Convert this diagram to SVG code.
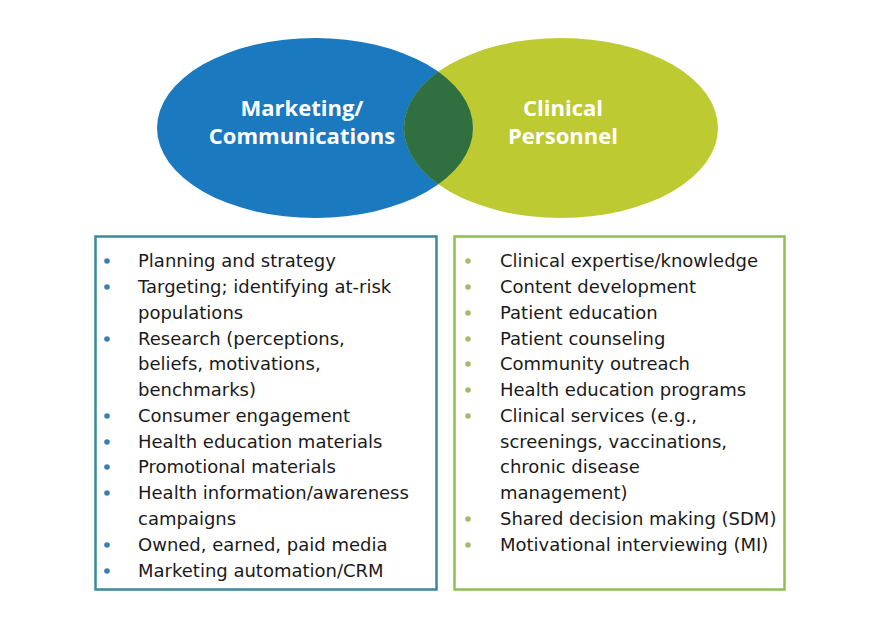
<svg xmlns="http://www.w3.org/2000/svg" width="878" height="626" viewBox="0 0 878 626">
<style>
.title{font-family:"Open Sans","Liberation Sans",sans-serif;font-weight:bold;font-size:22px;fill:#ffffff;text-anchor:middle}
.item{font-family:"DejaVu Sans","Liberation Sans",sans-serif;font-size:18px;fill:#1a1a1a}
.bl{fill:#3a7fb3}
.bg{fill:#a6bb6a}
</style>
<rect width="878" height="626" fill="#ffffff"/>
<g id="venn-marketing">
<ellipse cx="315" cy="128" rx="158" ry="90" fill="#1a79bf"/>
</g>
<g id="venn-clinical">
<ellipse cx="561" cy="128" rx="157" ry="90" fill="#bdca31"/>
</g>
<g id="venn-overlap">
<clipPath id="clipBlue"><ellipse cx="315" cy="128" rx="158" ry="90"/></clipPath>
<ellipse cx="561" cy="128" rx="157" ry="90" fill="#2f6f40" clip-path="url(#clipBlue)"/>
</g>
<g id="labels">
<text class="title" x="302" y="116">Marketing/</text>
<text class="title" x="302" y="144">Communications</text>
<text class="title" x="563" y="116">Clinical</text>
<text class="title" x="563" y="144">Personnel</text>
</g>
<g id="box-marketing">
<rect x="95.5" y="236.5" width="341" height="353" fill="#ffffff" stroke="#3b8a9b" stroke-width="2.5"/>
<g class="bl">
<circle cx="107" cy="261" r="2.8"/>
<circle cx="107" cy="287" r="2.8"/>
<circle cx="107" cy="339" r="2.8"/>
<circle cx="107" cy="416" r="2.8"/>
<circle cx="107" cy="442" r="2.8"/>
<circle cx="107" cy="467" r="2.8"/>
<circle cx="107" cy="493" r="2.8"/>
<circle cx="107" cy="545" r="2.8"/>
<circle cx="107" cy="571" r="2.8"/>
</g>
<text class="item" x="138" y="267">Planning and strategy</text>
<text class="item" x="138" y="293">Targeting; identifying at-risk</text>
<text class="item" x="138" y="319">populations</text>
<text class="item" x="138" y="345">Research (perceptions,</text>
<text class="item" x="138" y="370">beliefs, motivations,</text>
<text class="item" x="138" y="396">benchmarks)</text>
<text class="item" x="138" y="422">Consumer engagement</text>
<text class="item" x="138" y="448">Health education materials</text>
<text class="item" x="138" y="473">Promotional materials</text>
<text class="item" x="138" y="499">Health information/awareness</text>
<text class="item" x="138" y="525">campaigns</text>
<text class="item" x="138" y="551">Owned, earned, paid media</text>
<text class="item" x="138" y="577">Marketing automation/CRM</text>
</g>
<g id="box-clinical">
<rect x="454.5" y="236.5" width="330" height="353" fill="#ffffff" stroke="#8cc14f" stroke-width="2.5"/>
<g class="bg">
<circle cx="468" cy="261" r="2.8"/>
<circle cx="468" cy="287" r="2.8"/>
<circle cx="468" cy="313" r="2.8"/>
<circle cx="468" cy="339" r="2.8"/>
<circle cx="468" cy="364" r="2.8"/>
<circle cx="468" cy="390" r="2.8"/>
<circle cx="468" cy="416" r="2.8"/>
<circle cx="468" cy="519" r="2.8"/>
<circle cx="468" cy="545" r="2.8"/>
</g>
<text class="item" x="500" y="267">Clinical expertise/knowledge</text>
<text class="item" x="500" y="293">Content development</text>
<text class="item" x="500" y="319">Patient education</text>
<text class="item" x="500" y="345">Patient counseling</text>
<text class="item" x="500" y="370">Community outreach</text>
<text class="item" x="500" y="396">Health education programs</text>
<text class="item" x="500" y="422">Clinical services (e.g.,</text>
<text class="item" x="500" y="448">screenings, vaccinations,</text>
<text class="item" x="500" y="473">chronic disease</text>
<text class="item" x="500" y="499">management)</text>
<text class="item" x="500" y="525">Shared decision making (SDM)</text>
<text class="item" x="500" y="551">Motivational interviewing (MI)</text>
</g>
</svg>
